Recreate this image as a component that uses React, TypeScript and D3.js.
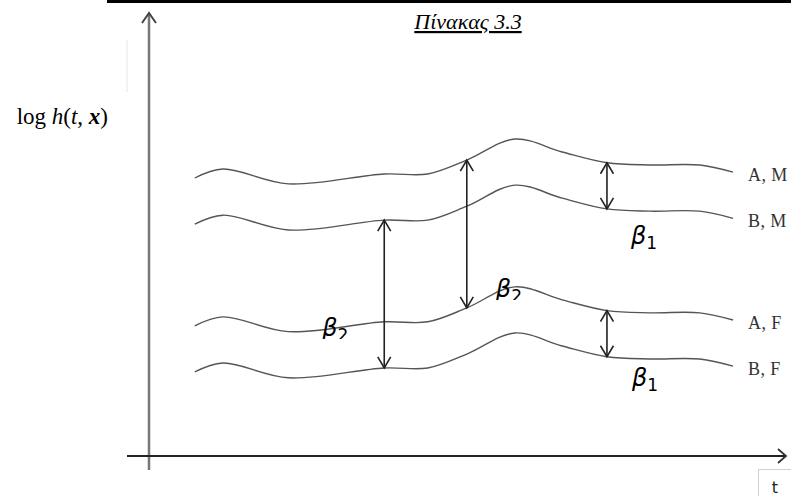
import React from "react";
import * as d3 from "d3";

const W = 791;
const H = 496;

// Common time profile of log h(t, x) for the reference group (A, M)
const profileT = [7, 11.4, 21.6, 36.6, 43.4, 49.5, 57, 64.4, 71.4, 78.1, 85.9, 91.1];
const profileLogH = [62.5, 64.5, 61.2, 63.4, 63.4, 66.5, 71.2, 68.3, 65.9, 65.4, 65.4, 63.8];

// Groups: indicator of B (shift β1) and of F (shift β2)
const groupNames = ["A, M", "B, M", "A, F", "B, F"];
const groupIsB = [0, 1, 0, 1];
const groupIsF = [0, 0, 1, 1];
const beta1 = 10.3;
const beta2 = 33.0;

// Vertical double arrows: profile index, upper group, lower group, label subscript
const arrowProfileIdx = [3, 5, 8, 8];
const arrowUpperGroup = [1, 0, 0, 2];
const arrowLowerGroup = [3, 2, 1, 3];
const arrowLabelSub = ["2", "2", "1", "1"];

// Placement of the β labels relative to the foot of each arrow
const labelLayout = [
  { dx: -62, dy: -32, clip: 3 },
  { dx: 29, dy: -11, clip: 3 },
  { dx: 24, dy: 35, clip: null },
  { dx: 25, dy: 29, clip: null },
];

const x = d3.scaleLinear().domain([0, 100]).range([150, 790]);
const y = d3.scaleLinear().domain([0, 100]).range([458, 10]);

const groupValue = (v: number, g: number) => v - groupIsB[g] * beta1 - groupIsF[g] * beta2;

const line = d3
  .line<[number, number]>()
  .x((d) => x(d[0]))
  .y((d) => y(d[1]))
  .curve(d3.curveCatmullRom.alpha(0.5));

function chevron(cx: number, cy: number, dir: number, half: number, len: number) {
  return `M${cx - half},${cy - dir * len}L${cx},${cy}L${cx + half},${cy - dir * len}`;
}

export default function App() {
  const serif = "'Liberation Serif', 'DejaVu Serif', serif";
  const sans = "'DejaVu Sans', sans-serif";
  return (
    <svg width={W} height={H} style={{ position: "absolute", left: 0, top: 0, background: "#fff" }}>
      <defs>
        {labelLayout.map((l, i) => {
          if (l.clip === null) return null;
          const ax = x(profileT[arrowProfileIdx[i]]);
          const foot = y(groupValue(profileLogH[arrowProfileIdx[i]], arrowLowerGroup[i]));
          return (
            <clipPath id={`bclip${i}`} key={i}>
              <rect x={ax + l.dx - 5} y={foot + l.dy - 40} width={60} height={40 + l.clip} />
            </clipPath>
          );
        })}
      </defs>

      {/* frame line above the title */}
      <line x1={107} x2={W} y1={1.5} y2={1.5} stroke="#000" strokeWidth={3} />
      <line x1={127} x2={127} y1={40} y2={92} stroke="#e6e6e6" strokeWidth={1} />

      <text
        x={468}
        y={29}
        textAnchor="middle"
        fontFamily={serif}
        fontStyle="italic"
        fontSize={22}
        textDecoration="underline"
        fill="#000"
      >
        Πίνακας 3.3
      </text>

      {/* axes */}
      <line x1={149} x2={149} y1={14} y2={470} stroke="#777" strokeWidth={2.5} />
      <path d={chevron(149, 13, -1, 7, 10)} fill="none" stroke="#444" strokeWidth={2} />
      <line x1={127} x2={785} y1={456} y2={456} stroke="#222" strokeWidth={2} />
      <path d={`M778,449L786,456L778,463`} fill="none" stroke="#333" strokeWidth={1.8} />

      <text x={108} y={124} textAnchor="end" fontFamily={serif} fontSize={23} fill="#000">
        <tspan>log </tspan>
        <tspan fontStyle="italic">h</tspan>
        <tspan>(</tspan>
        <tspan fontStyle="italic">t</tspan>
        <tspan>, </tspan>
        <tspan fontStyle="italic" fontWeight="bold">x</tspan>
        <tspan>)</tspan>
      </text>

      {/* log-hazard curves */}
      {groupNames.map((name, g) => {
        const pts: [number, number][] = profileT.map((t, i) => [t, groupValue(profileLogH[i], g)]);
        const last = pts[pts.length - 1];
        return (
          <g key={name}>
            <path d={line(pts) || ""} fill="none" stroke="#555" strokeWidth={1.4} />
            <text
              x={x(last[0]) + 15}
              y={y(last[1]) + 9}
              fontFamily={serif}
              fontSize={18}
              letterSpacing={0.4}
              fill="#333"
            >
              {name}
            </text>
          </g>
        );
      })}

      {/* effect arrows */}
      {arrowProfileIdx.map((pi, i) => {
        const ax = x(profileT[pi]);
        const top = y(groupValue(profileLogH[pi], arrowUpperGroup[i]));
        const foot = y(groupValue(profileLogH[pi], arrowLowerGroup[i]));
        const l = labelLayout[i];
        return (
          <g key={i}>
            <line x1={ax} x2={ax} y1={top} y2={foot} stroke="#222" strokeWidth={1.6} />
            <path d={chevron(ax, top, -1, 6.5, 11)} fill="none" stroke="#222" strokeWidth={1.6} />
            <path d={chevron(ax, foot, 1, 6.5, 11)} fill="none" stroke="#222" strokeWidth={1.6} />
            <text
              x={ax + l.dx}
              y={foot + l.dy}
              fontFamily={sans}
              fontSize={24}
              fill="#000"
              clipPath={l.clip === null ? undefined : `url(#bclip${i})`}
            >
              <tspan fontStyle="italic">β</tspan>
              <tspan fontSize={17} dy={5}>
                {arrowLabelSub[i]}
              </tspan>
            </text>
          </g>
        );
      })}

      {/* time axis caption */}
      <rect x={758.5} y={469.5} width={40} height={40} fill="#fff" stroke="#d0d0d0" />
      <text x={775} y={493} textAnchor="middle" fontFamily={sans} fontSize={16} fill="#222">
        t
      </text>
    </svg>
  );
}
